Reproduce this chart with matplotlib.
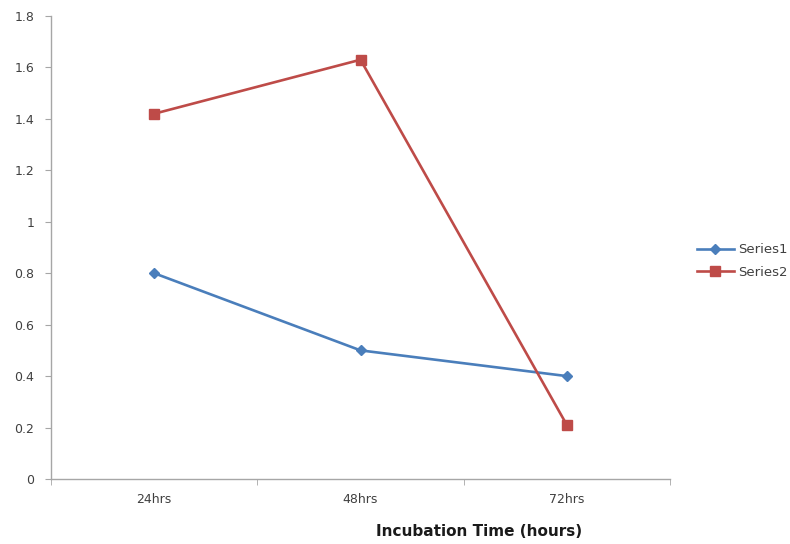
import matplotlib.pyplot as plt
import numpy as np

categories = ["24hrs", "48hrs", "72hrs"]
series1 = [0.80, 0.50, 0.40]
series2 = [1.42, 1.63, 0.21]
yticks = [0, 0.2, 0.4, 0.6, 0.8, 1, 1.2, 1.4, 1.6, 1.8]
ytick_labels = ["0", "0.2", "0.4", "0.6", "0.8", "1", "1.2", "1.4", "1.6", "1.8"]

axis_grey = "#a6a6a6"
text_grey = "#404040"

fig = plt.figure(figsize=(7.9, 5.44), dpi=100)
ax = fig.add_axes([0.0646, 0.1195, 0.7835, 0.8511])

x = np.arange(len(categories))
ax.plot(x, series1, color="#4a7ebb", lw=1.9, marker="D", ms=5.5,
        label="Series1")
ax.plot(x, series2, color="#be4b48", lw=1.9, marker="s", ms=7.5,
        label="Series2")

ax.set_xlim(-0.5, len(categories) - 0.5)
ax.set_ylim(0, 1.8)

ax.set_yticks(yticks)
ax.set_yticklabels(ytick_labels)
ax.set_xticks(x)
ax.set_xticklabels(categories)
# category boundaries get the tick marks, labels stay centred
ax.set_xticks(np.arange(-0.5, len(categories)), minor=True)
ax.tick_params(axis="x", which="major", length=0, pad=10)
ax.tick_params(axis="x", which="minor", length=4, color=axis_grey,
               direction="out")
ax.tick_params(axis="y", length=4, color=axis_grey, direction="out", pad=8)
ax.tick_params(labelsize=9, labelcolor=text_grey)

for side in ["top", "right"]:
    ax.spines[side].set_visible(False)
for side in ["left", "bottom"]:
    ax.spines[side].set_color(axis_grey)
    ax.spines[side].set_linewidth(1.0)

leg = fig.legend(loc="center left", bbox_to_anchor=(697 / 790, 1 - 261 / 544),
                 frameon=False, fontsize=9.5, handlelength=2.8,
                 handletextpad=0.3, labelspacing=0.72, borderpad=0,
                 borderaxespad=0)
for t in leg.get_texts():
    t.set_color(text_grey)

fig.text(479 / 790, 1 - 532 / 544, "Incubation Time (hours)", ha="center",
         va="center", fontsize=11, fontweight="bold", color="#1a1a1a")

fig.savefig("out.png", dpi=100, facecolor="white")
